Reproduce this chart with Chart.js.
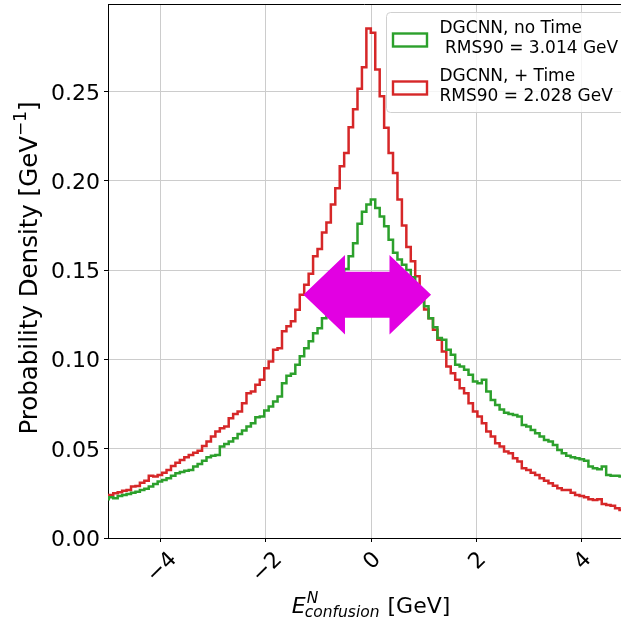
<!DOCTYPE html>
<html>
<head>
<meta charset="utf-8" />
<title>E confusion resolution</title>
<script src="https://cdn.jsdelivr.net/npm/chart.js"></script>
<style>
  html, body { margin: 0; background: white; }
</style>
</head>
<body>
<canvas id="hist" width="621" height="621"></canvas>
<script>
// histogram binning (GeV)
const binStart = -5.069;
const binWidth = 0.0844;

// probability density per bin
const noTime = [
  0.0217, 0.0228, 0.0222, 0.0235, 0.0241, 0.0247, 0.0254, 0.0259, 0.0269, 0.0276,
  0.0288, 0.0303, 0.0316, 0.0325, 0.0334, 0.0348, 0.0363, 0.0370, 0.0377, 0.0381,
  0.0400, 0.0415, 0.0432, 0.0452, 0.0460, 0.0465, 0.0512, 0.0527, 0.0540, 0.0559,
  0.0583, 0.0602, 0.0624, 0.0643, 0.0676, 0.0680, 0.0714, 0.0736, 0.0764, 0.0792,
  0.0867, 0.0908, 0.0920, 0.0970, 0.1017, 0.1063, 0.1101, 0.1147, 0.1175, 0.1231,
  0.1259, 0.1330, 0.1380, 0.1440, 0.1506, 0.1577, 0.1650, 0.1760, 0.1827, 0.1868,
  0.1895, 0.1848, 0.1800, 0.1745, 0.1670, 0.1597, 0.1560, 0.1530, 0.1500, 0.1460,
  0.1410, 0.1360, 0.1297, 0.1231, 0.1180, 0.1120, 0.1110, 0.1054, 0.1026, 0.0970,
  0.0960, 0.0942, 0.0914, 0.0876, 0.0867, 0.0886, 0.0820, 0.0773, 0.0745, 0.0720,
  0.0702, 0.0695, 0.0689, 0.0680, 0.0633, 0.0624, 0.0605, 0.0587, 0.0568, 0.0549,
  0.0540, 0.0521, 0.0493, 0.0475, 0.0460, 0.0452, 0.0447, 0.0441, 0.0432, 0.0400,
  0.0390, 0.0385, 0.0400, 0.0353, 0.0348, 0.0348, 0.0344
];
const plusTime = [
  0.0241, 0.0241, 0.0250, 0.0256, 0.0265, 0.0269, 0.0288, 0.0291, 0.0310, 0.0321,
  0.0348, 0.0344, 0.0353, 0.0366, 0.0381, 0.0403, 0.0422, 0.0437, 0.0452, 0.0465,
  0.0478, 0.0489, 0.0515, 0.0540, 0.0568, 0.0596, 0.0615, 0.0624, 0.0671, 0.0695,
  0.0708, 0.0755, 0.0811, 0.0820, 0.0858, 0.0886, 0.0951, 0.0988, 0.1054, 0.1063,
  0.1157, 0.1185, 0.1213, 0.1278, 0.1362, 0.1418, 0.1480, 0.1577, 0.1618, 0.1711,
  0.1767, 0.1867, 0.1958, 0.2081, 0.2156, 0.2300, 0.2400, 0.2515, 0.2636, 0.2853,
  0.2829, 0.2623, 0.2474, 0.2297, 0.2156, 0.2044, 0.1895, 0.1750, 0.1630, 0.1550,
  0.1465, 0.1370, 0.1280, 0.1230, 0.1166, 0.1110, 0.1044, 0.0960, 0.0923, 0.0886,
  0.0839, 0.0811, 0.0755, 0.0708, 0.0680, 0.0643, 0.0596, 0.0568, 0.0531, 0.0512,
  0.0484, 0.0475, 0.0447, 0.0428, 0.0390, 0.0381, 0.0366, 0.0353, 0.0334, 0.0321,
  0.0307, 0.0292, 0.0279, 0.0269, 0.0269, 0.0254, 0.0241, 0.0235, 0.0228, 0.0217,
  0.0213, 0.0217, 0.0190, 0.0185, 0.0180, 0.0166, 0.0157
];

const xTicks = [-4, -2, 0, 2, 4];
const yTicks = [0, 0.05, 0.10, 0.15, 0.20, 0.25];
const legendLines = [
  ['DGCNN, no Time', ' RMS90 = 3.014 GeV'],
  ['DGCNN, + Time', 'RMS90 = 2.028 GeV']
];
const colors = ['#2ca02c', '#d62728'];

// double arrow, data units
const arrowX = [-1.286, 1.14];
const arrowY = 0.1362;
const arrowShaft = 0.0129;
const arrowHead = 0.0222;
const arrowHeadLen = 0.79;

const FONT = '"DejaVu Sans", sans-serif';

function toSteps(vals) {
  const pts = vals.map((v, i) => ({ x: binStart + i * binWidth, y: v }));
  pts.push({ x: binStart + vals.length * binWidth, y: vals[vals.length - 1] });
  return pts;
}

const drawExtras = {
  id: 'drawExtras',
  afterDatasetsDraw(chart) {
    const ctx = chart.ctx;
    const xs = chart.scales.x, ys = chart.scales.y;
    // arrow
    const x0 = xs.getPixelForValue(arrowX[0]), x1 = xs.getPixelForValue(arrowX[1]);
    const hl = xs.getPixelForValue(arrowX[0] + arrowHeadLen) - x0;
    const yc = ys.getPixelForValue(arrowY);
    const sh = ys.getPixelForValue(arrowY - arrowShaft) - yc;
    const hh = ys.getPixelForValue(arrowY - arrowHead) - yc;
    ctx.save();
    ctx.fillStyle = '#e200e2';
    ctx.beginPath();
    ctx.moveTo(x0, yc);
    ctx.lineTo(x0 + hl, yc - hh);
    ctx.lineTo(x0 + hl, yc - sh);
    ctx.lineTo(x1 - hl, yc - sh);
    ctx.lineTo(x1 - hl, yc - hh);
    ctx.lineTo(x1, yc);
    ctx.lineTo(x1 - hl, yc + hh);
    ctx.lineTo(x1 - hl, yc + sh);
    ctx.lineTo(x0 + hl, yc + sh);
    ctx.lineTo(x0 + hl, yc + hh);
    ctx.closePath();
    ctx.fill();
    ctx.restore();
  },
  afterDraw(chart) {
    const ctx = chart.ctx;
    const area = chart.chartArea;
    const xs = chart.scales.x, ys = chart.scales.y;
    ctx.save();

    // top spine
    ctx.strokeStyle = '#000';
    ctx.lineWidth = 1;
    ctx.beginPath();
    ctx.moveTo(area.left, area.top + 0.5);
    ctx.lineTo(area.right, area.top + 0.5);
    ctx.stroke();

    ctx.fillStyle = '#000';
    // y tick labels
    ctx.font = '22px ' + FONT;
    ctx.textAlign = 'right';
    ctx.textBaseline = 'alphabetic';
    yTicks.forEach(v => {
      ctx.fillText(v.toFixed(2), area.left - 8, ys.getPixelForValue(v) + 8);
    });

    // x tick labels, rotated 45
    xTicks.forEach(v => {
      const s = String(v).replace('-', '\u2212');
      const w = ctx.measureText(s).width;
      const h = 16;
      const box = (w + h) / Math.SQRT2;
      ctx.save();
      ctx.translate(xs.getPixelForValue(v), area.bottom + 11 + box / 2);
      ctx.rotate(-Math.PI / 4);
      ctx.textAlign = 'center';
      ctx.fillText(s, 0, h / 2);
      ctx.restore();
    });

    // y title
    ctx.save();
    ctx.translate(28, (area.top + area.bottom) / 2 - 3);
    ctx.rotate(-Math.PI / 2);
    ctx.textAlign = 'left';
    const big = '24.5px ' + FONT, small = '17px ' + FONT;
    ctx.font = big;
    const p1 = 'Probability Density [GeV', p3 = ']';
    const w1 = ctx.measureText(p1).width, w3 = ctx.measureText(p3).width;
    ctx.font = small;
    const p2 = '\u22121';
    const w2 = ctx.measureText(p2).width;
    let tx = -(w1 + w2 + w3) / 2;
    ctx.font = big;
    ctx.fillText(p1, tx, 9);
    ctx.font = small;
    ctx.fillText(p2, tx + w1, -2);
    ctx.font = big;
    ctx.fillText(p3, tx + w1 + w2, 9);
    ctx.restore();

    // x title
    const cx = (xs.getPixelForValue(-5) + xs.getPixelForValue(5)) / 2;
    ctx.textAlign = 'left';
    ctx.font = 'italic 22px ' + FONT;
    const wE = ctx.measureText('E').width;
    ctx.font = 'italic 15.5px ' + FONT;
    const wSub = ctx.measureText('confusion').width;
    ctx.font = '22px ' + FONT;
    const wUnit = ctx.measureText(' [GeV]').width;
    let sx = cx - (wE + wSub + wUnit) / 2;
    const base = 613;
    ctx.font = 'italic 22px ' + FONT;
    ctx.fillText('E', sx, base);
    ctx.font = 'italic 15.5px ' + FONT;
    ctx.fillText('N', sx + wE + 1, base - 10);
    ctx.fillText('confusion', sx + wE - 1, base + 4);
    ctx.font = '22px ' + FONT;
    ctx.fillText(' [GeV]', sx + wE + wSub, base);

    // legend
    const lx = 386.5, ly = 12.5;
    ctx.fillStyle = 'rgba(255,255,255,0.8)';
    ctx.strokeStyle = '#d0d0d0';
    ctx.lineWidth = 1;
    ctx.beginPath();
    ctx.roundRect(lx, ly, 260, 100, 4);
    ctx.fill();
    ctx.stroke();
    ctx.font = '17px ' + FONT;
    legendLines.forEach((lines, i) => {
      const top = ly + 21 + i * 48;
      ctx.strokeStyle = colors[i];
      ctx.lineWidth = 2.4;
      ctx.strokeRect(lx + 6.5, top, 34, 13);
      ctx.fillStyle = '#000';
      ctx.fillText(lines[0], lx + 53, top - 0.5);
      ctx.fillText(lines[1], lx + 53, top + 19.5);
    });
    ctx.restore();
  }
};

const ctx = document.getElementById('hist').getContext('2d');
new Chart(ctx, {
  type: 'line',
  data: {
    datasets: [
      { label: legendLines[0].join(''), data: toSteps(noTime), borderColor: colors[0] },
      { label: legendLines[1].join(''), data: toSteps(plusTime), borderColor: colors[1] }
    ]
  },
  options: {
    responsive: false,
    animation: false,
    devicePixelRatio: 1,
    layout: { padding: { top: 4, left: 0, right: 0, bottom: 0 } },
    elements: {
      line: { borderWidth: 2.5, stepped: 'before', tension: 0, fill: false },
      point: { radius: 0 }
    },
    plugins: {
      legend: { display: false },
      tooltip: { enabled: false }
    },
    scales: {
      x: {
        type: 'linear',
        min: -5,
        max: 4.75,
        afterBuildTicks: s => { s.ticks = xTicks.map(v => ({ value: v })); },
        afterFit: s => { s.height = 83; },
        ticks: { display: false },
        grid: { color: '#cccccc', lineWidth: 1, tickLength: 4, tickColor: '#000' },
        border: { display: true, color: '#000', width: 1 }
      },
      y: {
        min: 0,
        max: 0.299,
        afterBuildTicks: s => { s.ticks = yTicks.map(v => ({ value: v })); },
        afterFit: s => { s.width = 108; },
        ticks: { display: false },
        grid: { color: '#cccccc', lineWidth: 1, tickLength: 4, tickColor: '#000' },
        border: { display: true, color: '#000', width: 1 }
      }
    }
  },
  plugins: [drawExtras]
});
</script>
</body>
</html>
